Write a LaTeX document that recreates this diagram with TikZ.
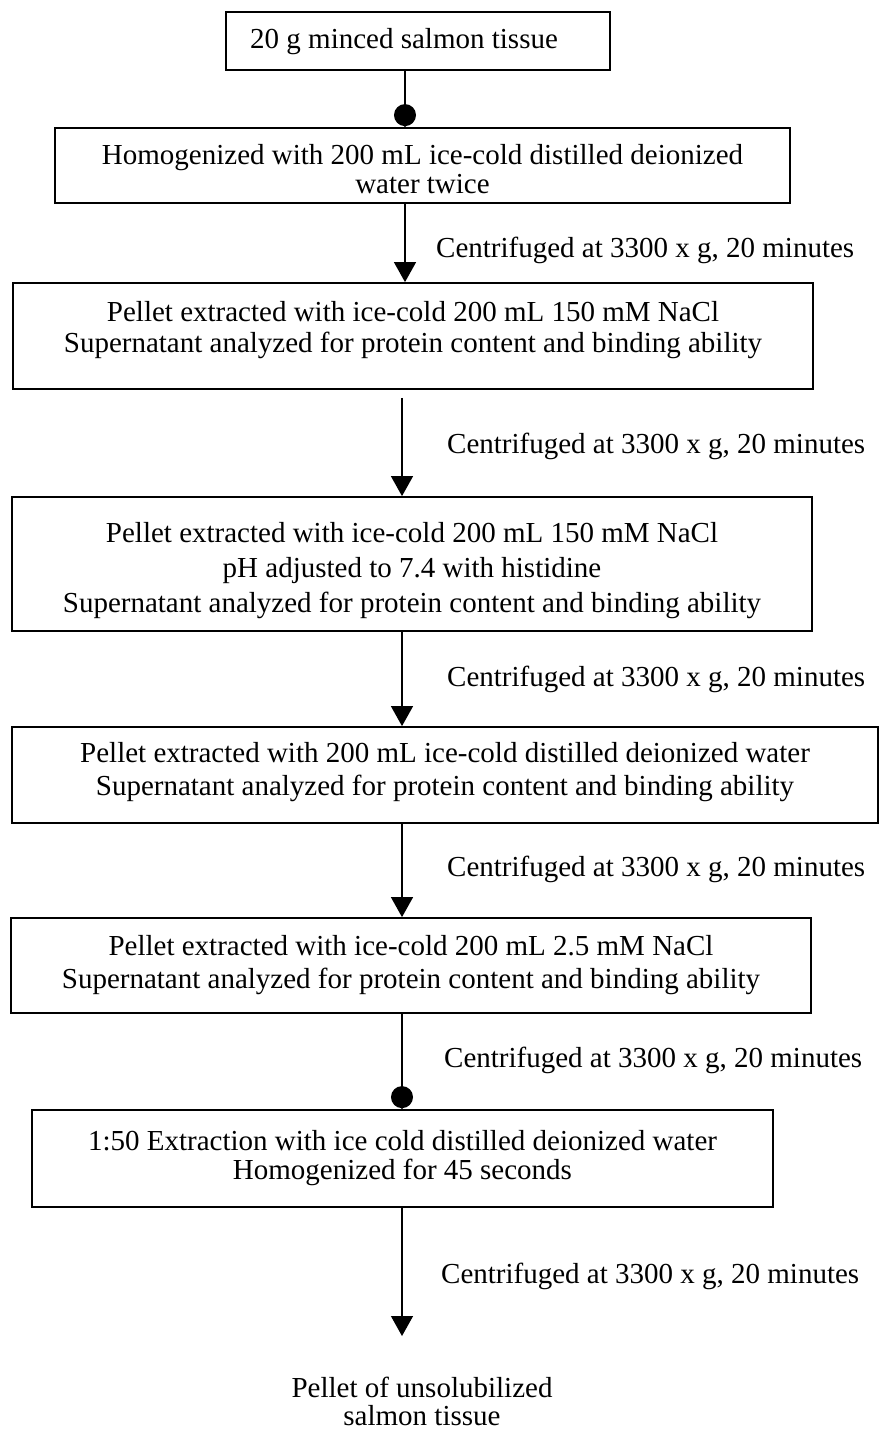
\documentclass[tikz,border=0pt]{standalone}
\usepackage{fontspec}
\setmainfont{Liberation Serif}
\usetikzlibrary{arrows.meta}
\begin{document}
\begin{tikzpicture}[x=1pt,y=-1pt,
  box/.style={draw, line width=1.8pt, inner sep=0pt},
  txt/.style={inner sep=0pt, align=center, anchor=north, font=\fontsize{29}{#1}\selectfont},
  txt/.default=33,
  lab/.style={inner sep=0pt, anchor=west, font=\fontsize{29}{33}\selectfont},
  arr/.style={line width=1.3pt, -{Triangle[length=20pt,width=22pt]}},
  dotc/.style={line width=1.3pt, -{Circle[length=22pt,sep=-5pt]Triangle[length=6pt,width=12pt]}}]
\useasboundingbox (0,0) rectangle (879,1430);
% boxes
\node[box, minimum width=384pt, minimum height=58pt]  (b1) at (418,41) {};
\node[box, minimum width=735pt, minimum height=75pt]  (b2) at (422.5,165.5) {};
\node[box, minimum width=800pt, minimum height=106pt] (b3) at (413,336) {};
\node[box, minimum width=800pt, minimum height=134pt] (b4) at (412,564) {};
\node[box, minimum width=866pt, minimum height=96pt]  (b5) at (445,775) {};
\node[box, minimum width=800pt, minimum height=95pt]  (b6) at (411,965.5) {};
\node[box, minimum width=741pt, minimum height=97pt]  (b7) at (402.5,1158.5) {};
% box texts
\node[txt, anchor=north west] (t1) at (250,28) {20 g minced salmon tissue};
\node[txt=29] (t2) at (422.5,144) {Homogenized with 200 mL ice-cold distilled deionized\\water twice};
\node[txt=31] (t3) at (413,301) {Pellet extracted with ice-cold 200 mL 150 mM NaCl\\Supernatant analyzed for protein content and binding ability};
\node[txt=35] (t4) at (412,522) {Pellet extracted with ice-cold 200 mL 150 mM NaCl\\pH adjusted to 7.4 with histidine\\Supernatant analyzed for protein content and binding ability};
\node[txt=33] (t5) at (445,742) {Pellet extracted with 200 mL ice-cold distilled deionized water\\Supernatant analyzed for protein content and binding ability};
\node[txt=33] (t6) at (411,935) {Pellet extracted with ice-cold 200 mL 2.5 mM NaCl\\Supernatant analyzed for protein content and binding ability};
\node[txt=29] (t7) at (402.5,1130) {1:50 Extraction with ice cold distilled deionized water\\Homogenized for 45 seconds};
\node[txt=28] (fin) at (422,1377) {Pellet of unsolubilized\\salmon tissue};
% labels
\node[lab] (l1) at (436,250) {Centrifuged at 3300 x g, 20 minutes};
\node[lab] (l2) at (447,446) {Centrifuged at 3300 x g, 20 minutes};
\node[lab] (l3) at (447,679) {Centrifuged at 3300 x g, 20 minutes};
\node[lab] (l4) at (447,869) {Centrifuged at 3300 x g, 20 minutes};
\node[lab] (l5) at (444,1060) {Centrifuged at 3300 x g, 20 minutes};
\node[lab] (l6) at (441,1276) {Centrifuged at 3300 x g, 20 minutes};
% connectors
\coordinate (xa) at (405,0);
\coordinate (xb) at (402,0);
\coordinate (endp) at (402,1336);
\draw[dotc] (b1.south -| xa) -- (b2.north -| xa);
\draw[arr] (b2.south -| xa) -- (b3.north -| xa);
\draw[arr, shorten <=8pt] (b3.south -| xb) -- (b4.north -| xb);
\draw[arr] (b4.south -| xb) -- (b5.north -| xb);
\draw[arr] (b5.south -| xb) -- (b6.north -| xb);
\draw[dotc] (b6.south -| xb) -- (b7.north -| xb);
\draw[arr] (b7.south -| xb) -- (endp);
\end{tikzpicture}
\end{document}
